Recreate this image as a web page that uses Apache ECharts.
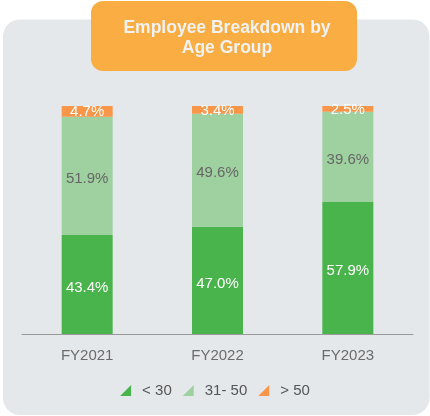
<!DOCTYPE html>
<html>
<head>
<meta charset="utf-8">
<script src="https://cdn.jsdelivr.net/npm/echarts@6/dist/echarts.min.js"></script>
<style>
html,body{margin:0;padding:0;background:#ffffff;}
#chart{width:430px;height:416px;}
</style>
</head>
<body>
<div id="chart"></div>
<script>
const categories = ['FY2021', 'FY2022', 'FY2023'];
const under30 = [43.4, 47.0, 57.9];
const age31to50 = [51.9, 49.6, 39.6];
const over50 = [4.7, 3.4, 2.5];
const seriesNames = ['< 30', '31- 50', '> 50'];
const titleText = 'Employee Breakdown by\nAge Group';

const FONT = 'Liberation Sans, Arial, sans-serif';
const tri = 'path://M10,0L10,10L0,10Z';

const chart = echarts.init(document.getElementById('chart'), null, {renderer: 'canvas'});

function lbl(color) {
  return {
    show: true,
    position: 'inside',
    offset: [0, 3],
    color: color,
    fontSize: 15,
    fontFamily: FONT,
    formatter: p => p.value.toFixed(1) + '%'
  };
}

chart.setOption({
  animation: false,
  backgroundColor: '#ffffff',
  graphic: [
    {
      type: 'rect', z: -10, silent: true,
      shape: {x: 3, y: 19.5, width: 426.5, height: 395.5, r: 17},
      style: {fill: '#e5e8eb'}
    },
    {
      type: 'rect', z: 10, silent: true,
      shape: {x: 91, y: 1, width: 266, height: 70, r: 12},
      style: {fill: '#f9ad42'}
    },
    {
      type: 'text', z: 11, silent: true,
      x: 227, y: 38,
      style: {
        text: titleText,
        fill: '#f2f2f2',
        font: 'bold 17.5px ' + FONT,
        align: 'center',
        verticalAlign: 'middle',
        lineHeight: 20
      }
    }
  ],
  grid: {left: 22, right: 17, top: 106, bottom: 82},
  legend: {
    data: seriesNames.map(n => ({name: n, icon: tri})),
    top: 378,
    left: 'center',
    itemWidth: 11,
    itemHeight: 12,
    itemGap: 11,
    textStyle: {color: '#555555', fontSize: 15, fontFamily: FONT, padding: [0, 0, 0, 6]}
  },
  xAxis: {
    type: 'category',
    data: categories,
    axisLine: {lineStyle: {color: '#9a9a9a', width: 1}},
    axisTick: {show: false},
    axisLabel: {color: '#6b6b6b', fontSize: 15, fontFamily: FONT, margin: 14}
  },
  yAxis: {
    type: 'value',
    min: 0, max: 100,
    show: false,
    splitLine: {show: false}
  },
  series: [
    {name: seriesNames[0], type: 'bar', stack: 'a', data: under30, barWidth: 51,
     itemStyle: {color: '#49b44b'}, label: lbl('#ffffff')},
    {name: seriesNames[1], type: 'bar', stack: 'a', data: age31to50, barWidth: 51,
     itemStyle: {color: '#9ed19f'}, label: lbl('#666666')},
    {name: seriesNames[2], type: 'bar', stack: 'a', data: over50, barWidth: 51,
     itemStyle: {color: '#f9964a'}, label: Object.assign(lbl('#ffffff'), {offset: [0, 1]})}
  ]
});
</script>
</body>
</html>
